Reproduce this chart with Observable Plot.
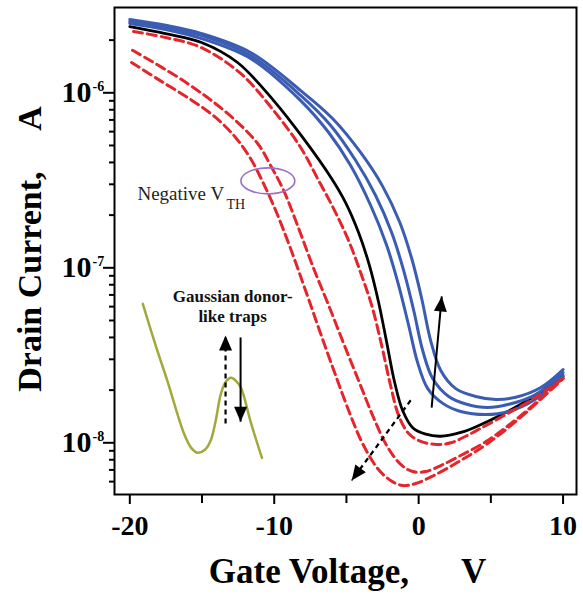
<!DOCTYPE html>
<html><head><meta charset="utf-8">
<script src="https://cdn.jsdelivr.net/npm/d3@7"></script>
<script src="https://cdn.jsdelivr.net/npm/@observablehq/plot@0.6"></script>
<style>body{margin:0;background:#fff} #chart svg{display:block}</style>
</head><body><div id="chart"></div>
<script>
// ---- data (gate voltage V, drain current A) ----
const xBlack = [-20,-17.53,-15.03,-12.54,-10.04,-8.03,-6.03,-5.06,-4.16,-3.39,-2.77,-2.21,-1.66,-1.11,-0.41,0.49,1.53,2.98,4.02,6.03,7.97,10];
const yBlack = [2.39e-6,2.18e-6,1.94e-6,1.49e-6,9.03e-7,5.56e-7,3.24e-7,2.36e-7,1.59e-7,1.02e-7,6.34e-8,3.74e-8,2.21e-8,1.53e-8,1.22e-8,1.12e-8,1.09e-8,1.15e-8,1.24e-8,1.49e-8,1.84e-8,2.39e-8];

const xBlue1 = [-20,-17.53,-15.03,-11.64,-8.17,-6.23,-4.71,-3.32,-2.21,-1.38,-0.69,-0.07,0.63,1.67,2.91,4.65,6.24,7.97,10];
const yBlue1 = [2.49e-6,2.30e-6,2.04e-6,1.57e-6,9.03e-7,5.93e-7,3.84e-7,2.27e-7,1.34e-7,7.92e-8,4.68e-8,2.87e-8,2.04e-8,1.68e-8,1.51e-8,1.45e-8,1.51e-8,1.75e-8,2.43e-8];
const xBlue2 = [-20,-17.53,-15.03,-11.64,-8.17,-6.09,-4.36,-2.98,-1.87,-1.04,-0.34,0.28,0.97,2.08,3.33,4.78,6.24,7.97,10];
const yBlue2 = [2.55e-6,2.36e-6,2.12e-6,1.63e-6,9.66e-7,6.50e-7,4.10e-7,2.59e-7,1.59e-7,9.66e-8,5.70e-8,3.37e-8,2.33e-8,1.84e-8,1.66e-8,1.59e-8,1.66e-8,1.86e-8,2.52e-8];
const xBlue3 = [-20,-17.53,-15.03,-11.64,-8.17,-5.96,-4.02,-2.49,-1.31,-0.48,0.21,0.83,1.53,2.57,3.95,5.34,6.72,8.46,10];
const yBlue3 = [2.62e-6,2.43e-6,2.18e-6,1.70e-6,1.03e-6,7.13e-7,4.56e-7,2.92e-7,1.82e-7,1.13e-7,6.68e-8,3.84e-8,2.59e-8,2.04e-8,1.84e-8,1.77e-8,1.82e-8,2.07e-8,2.62e-8];

const xRed1 = [-19.74,-17.53,-15.1,-12.33,-10.04,-8.17,-6.93,-5.89,-4.85,-4.02,-3.25,-2.56,-1.94,-1.38,-0.69,0.14,1.25,2.22,3.26,4.30,6.03,7.97,10];
const yRed1 = [2.24e-6,2.07e-6,1.82e-6,1.29e-6,7.92e-7,4.87e-7,3.16e-7,2.18e-7,1.43e-7,9.40e-8,6.10e-8,3.60e-8,2.12e-8,1.43e-8,1.13e-8,1.02e-8,9.78e-9,1.00e-8,1.09e-8,1.21e-8,1.45e-8,1.79e-8,2.33e-8];
const xRed2 = [-19.81,-16.28,-13.23,-11.15,-10.25,-9.35,-8.31,-7.27,-6.23,-5.19,-4.16,-3.18,-2.21,-1.24,-0.41,0.49,1.53,2.91,4.78,7.07,10];
const yRed2 = [1.75e-6,1.17e-6,7.62e-7,5.13e-7,3.84e-7,2.77e-7,1.68e-7,9.91e-8,6.10e-8,3.69e-8,2.27e-8,1.43e-8,9.64e-9,7.52e-9,6.85e-9,6.85e-9,7.41e-9,8.46e-9,1.03e-8,1.43e-8,2.33e-8];
const xRed3 = [-19.88,-17.87,-15.79,-14.06,-12.68,-11.64,-10.74,-9.84,-8.87,-7.83,-6.79,-5.75,-4.71,-3.88,-2.84,-1.94,-1.11,-0.21,1.04,2.91,4.78,7.07,10];
const yRed3 = [1.49e-6,1.17e-6,9.16e-7,7.23e-7,5.56e-7,4.21e-7,3.03e-7,2.07e-7,1.29e-7,7.42e-8,4.21e-8,2.43e-8,1.43e-8,9.91e-9,7.13e-9,6.09e-9,5.70e-9,5.85e-9,6.50e-9,7.92e-9,9.91e-9,1.40e-8,2.33e-8];

// inset: Gaussian donor-like trap density sketch
const xGreen = [-19.1,-18.2,-17.4,-16.25,-15.75,-15.3,-14.8,-14.4,-14.05,-13.7,-13.35,-13.0,-12.65,-12.3,-11.6,-10.85];
const yGreen = [6.22e-8,3.58e-8,2.26e-8,1.13e-8,9.36e-9,8.77e-9,9.12e-9,1.03e-8,1.34e-8,1.90e-8,2.23e-8,2.35e-8,2.26e-8,2.06e-8,1.29e-8,8.2e-9];

// axes
const xTicksMajor = [-20, -10, 0, 10];
const xTicksMinor = [-15, -5, 5];
const yTicksMajor = [1e-6, 1e-7, 1e-8];
const yTicksMinor = [2e-6, 9e-7, 8e-7, 7e-7, 6e-7, 5e-7, 4e-7, 3e-7, 2e-7,
  9e-8, 8e-8, 7e-8, 6e-8, 5e-8, 4e-8, 3e-8, 2e-8, 9e-9, 8e-9, 7e-9, 6e-9];
const yTickExponents = ["-6", "-7", "-8"];
const xTitle = "Gate Voltage,\u00a0\u00a0\u00a0\u00a0\u00a0 V";
const yTitle = "Drain Current,\u00a0\u00a0\u00a0\u00a0 A";

// annotations
const noteNeg = {x: -19.47, y: 2.43e-7, text: "Negative V"};
const noteSub = {x: -13.30, y: 2.18e-7, text: "TH"};
const noteGauss = [{x: -12.88, y: 6.34e-8, text: "Gaussian donor-"}, {x: -12.88, y: 4.88e-8, text: "like traps"}];
const ellipseAt = [{x: -10.44, y: 3.14e-7}];
const arrowsSolid = [
  {x1: -12.33, y1: 4.0e-8, x2: -12.33, y2: 1.32e-8, rot: 180},
  {x1: 0.90, y1: 1.59e-8, x2: 1.60, y2: 6.86e-8, rot: 5.3}
];
const arrowsDashed = [
  {x1: -13.37, y1: 1.29e-8, x2: -13.37, y2: 4.10e-8, rot: 0},
  {x1: -0.55, y1: 1.75e-8, x2: -4.64, y2: 6.09e-9, rot: -143.4}
];

// ---- build ----
const rows = (xs, ys) => xs.map((x, i) => ({x, y: ys[i]}));
const serif = "'Liberation Serif', 'Times New Roman', serif";
const BLUE = "#3a5cb2", RED = "#e4262c", GREEN = "#a3a83b";

const ellipseSymbol = {draw(ctx) {
  const rx = 27, ry = 13, k = 0.5523;
  ctx.moveTo(rx, 0);
  ctx.bezierCurveTo(rx, ry * k, rx * k, ry, 0, ry);
  ctx.bezierCurveTo(-rx * k, ry, -rx, ry * k, -rx, 0);
  ctx.bezierCurveTo(-rx, -ry * k, -rx * k, -ry, 0, -ry);
  ctx.bezierCurveTo(rx * k, -ry, rx, -ry * k, rx, 0);
  ctx.closePath();
}};
const headSymbol = {draw(ctx) {
  ctx.moveTo(0, 0); ctx.lineTo(6.5, 15); ctx.lineTo(-6.5, 15); ctx.closePath();
}};

const lineOpts = (stroke, w, dash) => ({x: "x", y: "y", stroke, strokeWidth: w, curve: "catmull-rom", strokeDasharray: dash});

const chart = Plot.plot({
  width: 583, height: 595,
  marginLeft: 114, marginRight: 7, marginTop: 7, marginBottom: 101,
  style: {fontFamily: serif, background: "white", color: "black"},
  x: {domain: [-21.06, 10.93]},
  y: {type: "log", domain: [5.065e-9, 3.072e-6]},
  marks: [
    Plot.line(rows(xBlack, yBlack), lineOpts("#000", 2.8)),
    Plot.line(rows(xBlue1, yBlue1), lineOpts(BLUE, 3)),
    Plot.line(rows(xBlue2, yBlue2), lineOpts(BLUE, 3)),
    Plot.line(rows(xBlue3, yBlue3), lineOpts(BLUE, 3)),
    Plot.line(rows(xRed1, yRed1), lineOpts(RED, 3, "9,5")),
    Plot.line(rows(xRed2, yRed2), lineOpts(RED, 3, "9,5")),
    Plot.line(rows(xRed3, yRed3), lineOpts(RED, 3, "9,5")),
    Plot.line(rows(xGreen, yGreen), {x: "x", y: "y", stroke: GREEN, strokeWidth: 2.5, curve: "catmull-rom"}),
    Plot.dot(ellipseAt, {x: "x", y: "y", symbol: ellipseSymbol, fill: "none", stroke: "#9a70c2", strokeWidth: 1.6}),
    Plot.link(arrowsSolid, {x1: "x1", y1: "y1", x2: "x2", y2: "y2", stroke: "#000", strokeWidth: 2}),
    Plot.link(arrowsDashed, {x1: "x1", y1: "y1", x2: "x2", y2: "y2", stroke: "#000", strokeWidth: 2.2, strokeDasharray: "5,4"}),
    Plot.dot([...arrowsSolid, ...arrowsDashed], {x: "x2", y: "y2", rotate: "rot", symbol: headSymbol, fill: "#000", stroke: "none"}),
    Plot.text([noteNeg], {x: "x", y: "y", text: "text", textAnchor: "start", lineAnchor: "bottom", fontSize: 19, fill: "#222"}),
    Plot.text([noteSub], {x: "x", y: "y", text: "text", textAnchor: "start", lineAnchor: "bottom", fontSize: 14, fill: "#222"}),
    Plot.text(noteGauss, {x: "x", y: "y", text: "text", textAnchor: "middle", lineAnchor: "bottom", fontSize: 17, fontWeight: "bold", fill: "#111"}),
    Plot.frame({stroke: "#000", strokeWidth: 2}),
    Plot.axisX({ticks: xTicksMajor, tickSize: 10, tickPadding: 11, tickFormat: d => String(d), fontSize: 28, fontWeight: "bold", strokeWidth: 2, label: null}),
    Plot.axisX({ticks: xTicksMinor, tickSize: 9, tickFormat: () => "", strokeWidth: 2, label: null}),
    Plot.axisY({ticks: yTicksMajor, tickSize: 11, tickFormat: () => "", strokeWidth: 2, label: null}),
    Plot.axisY({ticks: yTicksMinor, tickSize: 5, tickFormat: () => "", strokeWidth: 2, label: null}),
    Plot.text(yTicksMajor, {y: d => d, frameAnchor: "left", text: () => "10", textAnchor: "end", lineAnchor: "middle", dx: -23, fontSize: 30, fontWeight: "bold"}),
    Plot.text(yTicksMajor, {y: d => d, frameAnchor: "left", text: (d, i) => yTickExponents[i], textAnchor: "start", lineAnchor: "bottom", dx: -22, dy: -2, fontSize: 14, fontWeight: "bold"}),
    Plot.text([xTitle], {frameAnchor: "bottom", text: d => d, textAnchor: "middle", lineAnchor: "bottom", dx: 2, dy: 88, fontSize: 35, fontWeight: "bold"}),
    Plot.text([yTitle], {frameAnchor: "left", text: d => d, textAnchor: "middle", rotate: -90, lineAnchor: "bottom", dx: -74, dy: -2, fontSize: 34, fontWeight: "bold"})
  ]
});
document.getElementById("chart").appendChild(chart);
</script>
</body></html>
